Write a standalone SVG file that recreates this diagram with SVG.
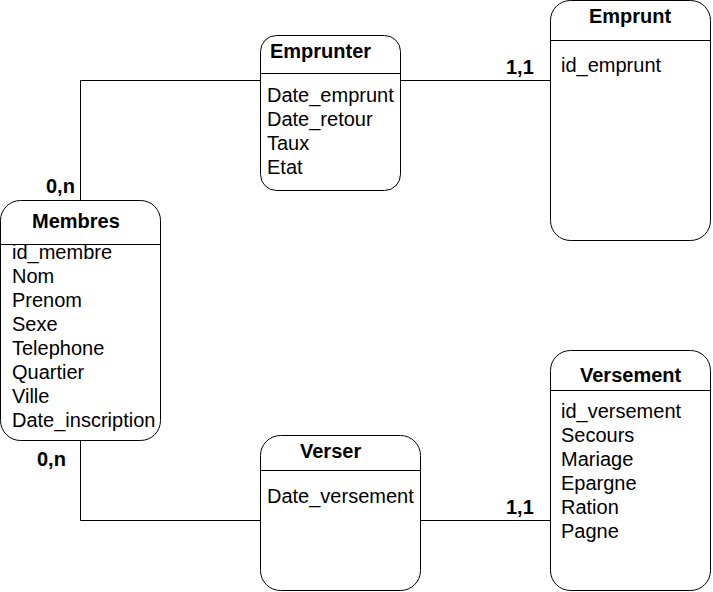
<svg xmlns="http://www.w3.org/2000/svg" width="713" height="592" viewBox="0 0 713 592">
<style>
.box{fill:#ffffff;stroke:#000000;stroke-width:1}
.hdr{stroke:#000000;stroke-width:1}
.title{font-family:"Liberation Sans",Arial,sans-serif;font-size:20px;font-weight:bold;fill:#000000}
.attr{font-family:"Liberation Sans",Arial,sans-serif;font-size:20px;fill:#000000}
.card{font-family:"Liberation Sans",Arial,sans-serif;font-size:20px;font-weight:bold;fill:#000000}
.conn{fill:none;stroke:#000000;stroke-width:1}
</style>
<rect width="713" height="592" fill="#ffffff"/>
<g id="connectors">
<polyline class="conn" points="80.5,200.5 80.5,80.5 260.5,80.5"/>
<polyline class="conn" points="400.5,80.5 550.5,80.5"/>
<polyline class="conn" points="80.5,440.5 80.5,520.5 260.5,520.5"/>
<polyline class="conn" points="420.5,520.5 550.5,520.5"/>
<text class="card" x="46" y="193">0,n</text>
<text class="card" x="506" y="74">1,1</text>
<rect x="36.5" y="453" width="29" height="17" fill="#f8f8f8"/>
<text class="card" x="37" y="466">0,n</text>
<text class="card" x="506" y="514">1,1</text>
</g>
<g id="membres">
<rect class="box" x="0.5" y="200.5" width="160" height="240" rx="20" ry="20"/>
<line class="hdr" x1="0.5" y1="244.5" x2="160.5" y2="244.5"/>
<text class="title" x="32" y="228">Membres</text>
<text class="attr" x="12" y="259">id_membre</text>
<text class="attr" x="12" y="283">Nom</text>
<text class="attr" x="12" y="307">Prenom</text>
<text class="attr" x="12" y="331">Sexe</text>
<text class="attr" x="12" y="355">Telephone</text>
<text class="attr" x="12" y="379">Quartier</text>
<text class="attr" x="12" y="403">Ville</text>
<text class="attr" x="12" y="427">Date_inscription</text>
</g>
<g id="emprunter">
<rect class="box" x="260.5" y="35.5" width="140" height="155" rx="16" ry="16"/>
<line class="hdr" x1="260.5" y1="73.5" x2="400.5" y2="73.5"/>
<text class="title" x="270" y="58">Emprunter</text>
<text class="attr" x="267" y="102">Date_emprunt</text>
<text class="attr" x="267" y="126">Date_retour</text>
<text class="attr" x="267" y="150">Taux</text>
<text class="attr" x="267" y="174">Etat</text>
</g>
<g id="emprunt">
<rect class="box" x="550.5" y="0.5" width="160" height="240" rx="20" ry="20"/>
<line class="hdr" x1="550.5" y1="40.5" x2="710.5" y2="40.5"/>
<text class="title" x="589" y="23">Emprunt</text>
<text class="attr" x="561" y="72">id_emprunt</text>
</g>
<g id="verser">
<rect class="box" x="260.5" y="435.5" width="160" height="155" rx="20" ry="20"/>
<line class="hdr" x1="260.5" y1="470.5" x2="420.5" y2="470.5"/>
<text class="title" x="300" y="458">Verser</text>
<text class="attr" x="267" y="503">Date_versement</text>
</g>
<g id="versement">
<rect class="box" x="550.5" y="350.5" width="160" height="240" rx="20" ry="20"/>
<line class="hdr" x1="550.5" y1="390.5" x2="710.5" y2="390.5"/>
<text class="title" x="580" y="382">Versement</text>
<text class="attr" x="561" y="418">id_versement</text>
<text class="attr" x="561" y="442">Secours</text>
<text class="attr" x="561" y="466">Mariage</text>
<text class="attr" x="561" y="490">Epargne</text>
<text class="attr" x="561" y="514">Ration</text>
<text class="attr" x="561" y="538">Pagne</text>
</g>
</svg>
